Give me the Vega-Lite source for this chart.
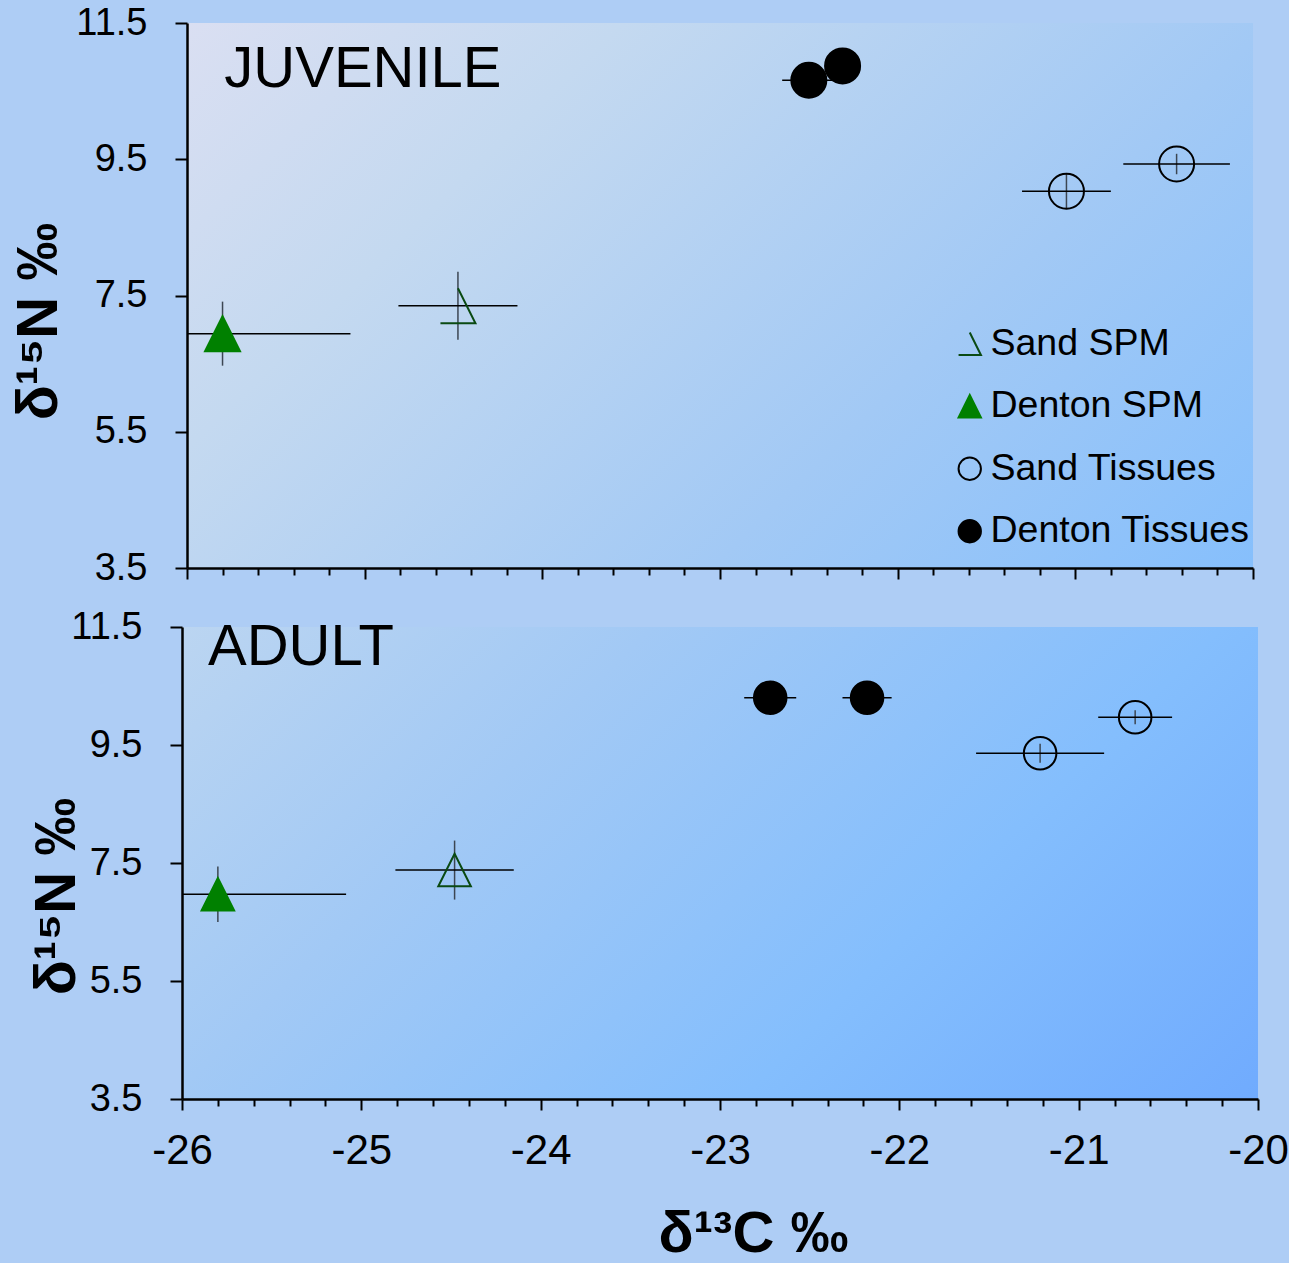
{
  "$schema": "https://vega.github.io/schema/vega-lite/v6.json",
  "background": "#aecdf5",
  "padding": {"left": 10, "top": 4, "right": 0, "bottom": 0},
  "spacing": 59,
  "bounds": "flush",
  "center": true,
  "config": {
    "view": {"stroke": null},
    "axis": {
      "domainColor": "black",
      "domainWidth": 2.5,
      "tickColor": "black",
      "tickWidth": 2,
      "labelFont": "Liberation Sans",
      "titleFont": "Liberation Sans",
      "labelColor": "black",
      "titleColor": "black",
      "grid": false
    }
  },
  "datasets": {
    "isotopes": [
      {"stage": "JUVENILE", "series": "Sand SPM", "c": -24.475, "cSD": 0.335, "n": 7.35, "nSD": 0.5},
      {"stage": "JUVENILE", "series": "Denton SPM", "c": -25.8, "cSD": 0.72, "n": 6.94, "nSD": 0.47},
      {"stage": "JUVENILE", "series": "Sand Tissues", "c": -21.05, "cSD": 0.25, "n": 9.03, "nSD": 0.26},
      {"stage": "JUVENILE", "series": "Sand Tissues", "c": -20.43, "cSD": 0.3, "n": 9.43, "nSD": 0.15},
      {"stage": "JUVENILE", "series": "Denton Tissues", "c": -22.5, "cSD": 0.15, "n": 10.66, "nSD": 0.1},
      {"stage": "JUVENILE", "series": "Denton Tissues", "c": -22.31, "cSD": 0.1, "n": 10.87, "nSD": 0.1},
      {"stage": "ADULT", "series": "Sand SPM", "c": -24.48, "cSD": 0.33, "n": 7.38, "nSD": 0.5},
      {"stage": "ADULT", "series": "Denton SPM", "c": -25.8, "cSD": 0.715, "n": 6.97, "nSD": 0.47},
      {"stage": "ADULT", "series": "Sand Tissues", "c": -21.215, "cSD": 0.357, "n": 9.36, "nSD": 0.16},
      {"stage": "ADULT", "series": "Sand Tissues", "c": -20.685, "cSD": 0.206, "n": 9.97, "nSD": 0.12},
      {"stage": "ADULT", "series": "Denton Tissues", "c": -22.72, "cSD": 0.145, "n": 10.3, "nSD": 0.08},
      {"stage": "ADULT", "series": "Denton Tissues", "c": -22.18, "cSD": 0.137, "n": 10.3, "nSD": 0.08}
    ]
  },
  "resolve": {
    "scale": {"x": "independent", "y": "independent", "shape": "independent", "fill": "independent", "stroke": "independent"}
  },
  "vconcat": [
    {
      "width": 1066,
      "height": 545,
      "view": {
        "stroke": null,
        "fill": {
          "gradient": "linear", "x1": 0, "y1": 0, "x2": 1.195, "y2": 0.627,
          "stops": [
            {"offset": 0, "color": "#dadff2"},
            {"offset": 0.269, "color": "#c4d9f0"},
            {"offset": 0.667, "color": "#a2c9f5"},
            {"offset": 1, "color": "#86bffc"}
          ]
        }
      },
      "data": {"name": "isotopes"},
      "transform": [{"filter": "datum.stage === 'JUVENILE'"}],
      "encoding": {
        "x": {
          "field": "c", "type": "quantitative",
          "scale": {"domain": [-26, -20], "nice": false, "zero": false},
          "axis": {
            "title": null,
            "values": [-26, -25.8, -25.6, -25.4, -25.2, -25, -24.8, -24.6, -24.4, -24.2, -24, -23.8, -23.6, -23.4, -23.2, -23, -22.8, -22.6, -22.4, -22.2, -22, -21.8, -21.6, -21.4, -21.2, -21, -20.8, -20.6, -20.4, -20.2, -20],
            "labels": false,
            "tickSize": {"condition": {"test": "abs(datum.value - round(datum.value)) < 0.01", "value": 11}, "value": 7}
          }
        },
        "y": {
          "field": "n", "type": "quantitative",
          "scale": {"domain": [3.5, 11.5], "nice": false, "zero": false},
          "axis": {
            "title": "δ¹⁵N ‰",
            "values": [3.5, 5.5, 7.5, 9.5, 11.5],
            "format": ".1f",
            "tickSize": 12,
            "labelPadding": 28,
            "labelFontSize": 38,
            "labelFlush": false,
            "titleFontSize": 58,
            "titleFontWeight": "bold",
            "titleX": -119,
            "titleY": 298
          }
        }
      },
      "layer": [
        {
          "mark": {"type": "errorbar", "ticks": false, "clip": true, "color": "#3c4652", "thickness": 1.5},
          "encoding": {"yError": {"field": "nSD"}}
        },
        {
          "mark": {"type": "errorbar", "ticks": false, "clip": true, "color": "black", "thickness": 1.5},
          "encoding": {"xError": {"field": "cSD"}}
        },
        {
          "mark": {"type": "point", "size": 1225, "strokeWidth": 2, "opacity": 1},
          "encoding": {
            "shape": {
              "field": "series", "type": "nominal",
              "scale": {"domain": ["Sand SPM", "Denton SPM", "Sand Tissues", "Denton Tissues"], "range": ["M0,-1L1,1L-1,1", "M0,-1L1,1L-1,1Z", "circle", "circle"]},
              "legend": {"orient": "none", "legendX": 764, "legendY": 302, "title": null, "labelFont": "Liberation Sans", "labelFontSize": 37.5, "labelColor": "black", "labelLimit": 600, "symbolSize": 500, "symbolStrokeWidth": 2, "rowPadding": 23.5, "labelOffset": 2}
            },
            "fill": {
              "field": "series", "type": "nominal",
              "scale": {"domain": ["Sand SPM", "Denton SPM", "Sand Tissues", "Denton Tissues"], "range": ["transparent", "#008000", "transparent", "black"]},
              "legend": {"orient": "none", "legendX": 764, "legendY": 302, "title": null, "labelFont": "Liberation Sans", "labelFontSize": 37.5, "labelColor": "black", "labelLimit": 600, "symbolSize": 500, "symbolStrokeWidth": 2, "rowPadding": 23.5, "labelOffset": 2}
            },
            "stroke": {
              "field": "series", "type": "nominal",
              "scale": {"domain": ["Sand SPM", "Denton SPM", "Sand Tissues", "Denton Tissues"], "range": ["#0a4a12", "#008000", "black", "black"]},
              "legend": {"orient": "none", "legendX": 764, "legendY": 302, "title": null, "labelFont": "Liberation Sans", "labelFontSize": 37.5, "labelColor": "black", "labelLimit": 600, "symbolSize": 500, "symbolStrokeWidth": 2, "rowPadding": 23.5, "labelOffset": 2}
            }
          }
        },
        {
          "transform": [{"filter": "datum.series === 'Sand SPM'"}],
          "mark": {"type": "text", "font": "Liberation Sans", "fontSize": 58, "align": "left", "baseline": "alphabetic", "color": "black"},
          "encoding": {
            "x": {"datum": -25.79, "type": "quantitative"},
            "y": {"datum": 10.56, "type": "quantitative"},
            "text": {"field": "stage"}
          }
        }
      ]
    },
    {
      "width": 1076,
      "height": 472,
      "view": {
        "stroke": null,
        "fill": {
          "gradient": "linear", "x1": 0, "y1": 0, "x2": 1.207, "y2": 0.542,
          "stops": [
            {"offset": 0, "color": "#bbd5f1"},
            {"offset": 0.302, "color": "#a2c9f5"},
            {"offset": 0.667, "color": "#84befd"},
            {"offset": 1, "color": "#70abfe"}
          ]
        }
      },
      "data": {"name": "isotopes"},
      "transform": [{"filter": "datum.stage === 'ADULT'"}],
      "encoding": {
        "x": {
          "field": "c", "type": "quantitative",
          "scale": {"domain": [-26, -20], "nice": false, "zero": false},
          "axis": {
            "title": "δ¹³C ‰",
            "values": [-26, -25.8, -25.6, -25.4, -25.2, -25, -24.8, -24.6, -24.4, -24.2, -24, -23.8, -23.6, -23.4, -23.2, -23, -22.8, -22.6, -22.4, -22.2, -22, -21.8, -21.6, -21.4, -21.2, -21, -20.8, -20.6, -20.4, -20.2, -20],
            "labelExpr": "abs(datum.value - round(datum.value)) < 0.01 ? '' + round(datum.value) : ''",
            "labelOverlap": false,
            "labelFlush": false,
            "labelFontSize": 42,
            "labelPadding": 20,
            "tickSize": {"condition": {"test": "abs(datum.value - round(datum.value)) < 0.01", "value": 11}, "value": 7},
            "titleFontSize": 58,
            "titleFontWeight": "bold",
            "titleX": 571,
            "titlePadding": 34
          }
        },
        "y": {
          "field": "n", "type": "quantitative",
          "scale": {"domain": [3.5, 11.5], "nice": false, "zero": false},
          "axis": {
            "title": "δ¹⁵N ‰",
            "values": [3.5, 5.5, 7.5, 9.5, 11.5],
            "format": ".1f",
            "tickSize": 12,
            "labelPadding": 28,
            "labelFontSize": 38,
            "labelFlush": false,
            "titleFontSize": 58,
            "titleFontWeight": "bold",
            "titleX": -96,
            "titleY": 269
          }
        }
      },
      "layer": [
        {
          "mark": {"type": "errorbar", "ticks": false, "clip": true, "color": "#3c4652", "thickness": 1.5},
          "encoding": {"yError": {"field": "nSD"}}
        },
        {
          "mark": {"type": "errorbar", "ticks": false, "clip": true, "color": "black", "thickness": 1.5},
          "encoding": {"xError": {"field": "cSD"}}
        },
        {
          "mark": {"type": "point", "size": 1060, "strokeWidth": 2, "opacity": 1},
          "encoding": {
            "shape": {
              "field": "series", "type": "nominal",
              "scale": {"domain": ["Sand SPM", "Denton SPM", "Sand Tissues", "Denton Tissues"], "range": ["M0,-1L1,1L-1,1Z", "M0,-1L1,1L-1,1Z", "circle", "circle"]},
              "legend": null
            },
            "fill": {
              "field": "series", "type": "nominal",
              "scale": {"domain": ["Sand SPM", "Denton SPM", "Sand Tissues", "Denton Tissues"], "range": ["transparent", "#008000", "transparent", "black"]},
              "legend": null
            },
            "stroke": {
              "field": "series", "type": "nominal",
              "scale": {"domain": ["Sand SPM", "Denton SPM", "Sand Tissues", "Denton Tissues"], "range": ["#0a4a12", "#008000", "black", "black"]},
              "legend": null
            }
          }
        },
        {
          "transform": [{"filter": "datum.series === 'Sand SPM'"}],
          "mark": {"type": "text", "font": "Liberation Sans", "fontSize": 58, "align": "left", "baseline": "alphabetic", "color": "black"},
          "encoding": {
            "x": {"datum": -25.855, "type": "quantitative"},
            "y": {"datum": 10.856, "type": "quantitative"},
            "text": {"field": "stage"}
          }
        }
      ]
    }
  ]
}
